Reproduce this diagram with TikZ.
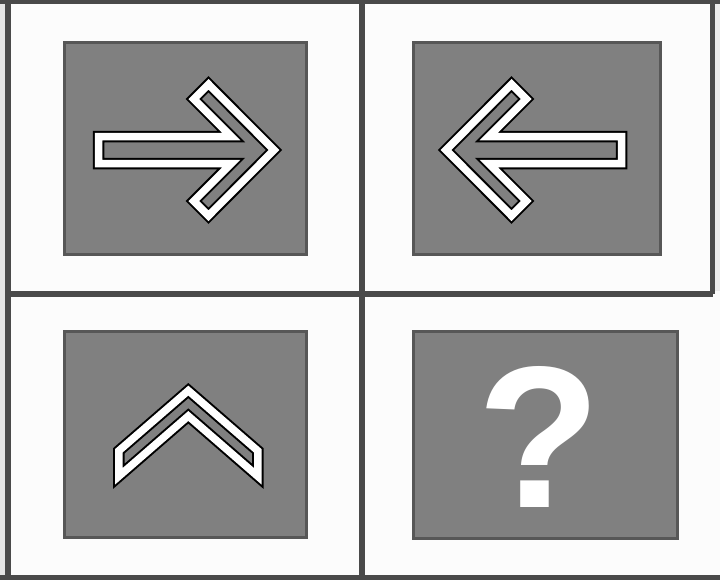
\documentclass[tikz,border=0pt]{standalone}
\usepackage{fontspec}
\newfontfamily\qfont{Liberation Sans}
\usetikzlibrary{positioning}

\begin{document}
\begin{tikzpicture}[
  x=1pt, y=-1pt,
  grid/.style={draw=black!71, line width=6pt},
  panel/.style={draw=black!66, fill=black!50, line width=3pt},
  band/.style={draw=black, line width=2pt, double=white,
               double distance=7.5pt, line join=miter},
  qmark/.style={font=\qfont\bfseries\fontsize{202}{202}\selectfont,
               text=white, inner sep=0pt, anchor=base}
]
\useasboundingbox (0,0) rectangle (720,579);
\fill[white!99!black] (0,0) rectangle (720,579);
\fill[black!10] (0,0) rectangle (5,579);
\fill[black!8] (715,0) rectangle (720,291);
% frame and dividers
\draw[grid] (0,1) -- (720,1);
\draw[grid] (0,578) -- (720,578);
\draw[grid] (8,0) -- (8,579);
\draw[grid] (361.5,0) -- (361.5,579);
\draw[grid] (8,294) -- (712.5,294);
\draw[grid, line width=5pt] (712.5,0) -- (712.5,294);
% gray panels
\draw[panel] (64.5,42.5) rectangle (306.5,254.5);
\draw[panel] (413.5,42.5) rectangle (660.5,254.5);
\draw[panel] (64.5,331.5) rectangle (306.5,537.5);
\draw[panel] (413.5,331.5) rectangle (677.5,538.5);
% right arrow
\draw[band] (98.5,136.5) -- (231.3,136.5) -- (193.8,99) -- (208.5,84.3)
  -- (274,150) -- (208.5,215.7) -- (193.8,201) -- (231.3,163.5)
  -- (98.5,163.5) -- cycle;
% left arrow
\draw[band] (621.5,136.5) -- (488.7,136.5) -- (526.2,99) -- (511.5,84.3)
  -- (446,150) -- (511.5,215.7) -- (526.2,201) -- (488.7,163.5)
  -- (621.5,163.5) -- cycle;
% chevron
\draw[band] (188.3,390.6) -- (257.8,450.8) -- (257.8,476.3) -- (188.3,416)
  -- (118.8,476.3) -- (118.8,450.8) -- cycle;
% unknown cell
\node[qmark] (query) at (539,507) {?};
\end{tikzpicture}
\end{document}
